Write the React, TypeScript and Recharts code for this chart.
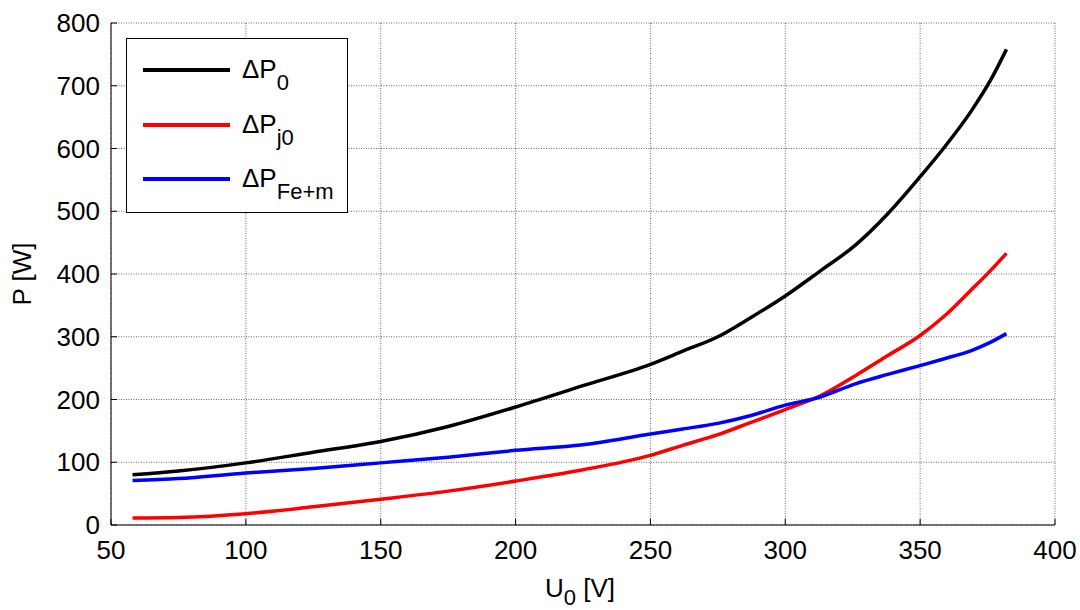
import React from "react"
import { LineChart, Line, XAxis, YAxis, CartesianGrid, Legend, Label } from "recharts"

// no-load test: voltage U0 [V] vs losses [W]
const voltage = [58, 75, 100, 125, 150, 175, 200, 225, 250, 262, 275, 287, 300, 313, 326, 338, 350, 359, 369, 376, 382]
const dP0 = [80, 86, 99, 116, 133, 157, 188, 222, 256, 277, 300, 330, 365, 405, 446, 496, 555, 602, 660, 708, 758]
const dPj0 = [11, 12, 18, 29, 41, 54, 70, 88, 111, 127, 144, 163, 184, 206, 238, 270, 302, 333, 375, 405, 433]
const dPFe = [71, 74, 83, 90, 99, 108, 119, 128, 145, 153, 162, 174, 191, 204, 225, 240, 254, 265, 278, 291, 305]

const xTicks = [50, 100, 150, 200, 250, 300, 350, 400]
const yTicks = [0, 100, 200, 300, 400, 500, 600, 700, 800]

const seriesKeys = ["p0", "pj0", "pfe"]
const seriesSubs = ["0", "j0", "Fe+m"]
const seriesColors = ["#000000", "#ff0000", "#0000ff"]

const data = voltage.map((u, i) => ({ u, p0: dP0[i], pj0: dPj0[i], pfe: dPFe[i] }))

const FONT = "'Liberation Sans', Arial, Helvetica, sans-serif"

function LegendBox() {
  return (
    <div
      style={{
        position: "relative",
        width: 220,
        height: 173,
        border: "1px solid #000",
        background: "#fff",
        fontFamily: FONT,
        color: "#000",
      }}
    >
      {seriesKeys.map((k, i) => (
        <div
          key={k}
          style={{
            position: "absolute",
            left: 16,
            top: 18 + i * 54.5,
            height: 26,
            display: "flex",
            alignItems: "center",
            whiteSpace: "nowrap",
          }}
        >
          <div style={{ width: 87, height: 4, background: seriesColors[i] }} />
          <span style={{ marginLeft: 12, fontSize: 26, lineHeight: "26px" }}>
            ΔP
            <span style={{ fontSize: 22, position: "relative", top: 12 }}>{seriesSubs[i]}</span>
          </span>
        </div>
      ))}
    </div>
  )
}

export default function App() {
  const tickStyle = { fill: "#000", fontSize: 26, fontFamily: FONT }
  return (
    <div style={{ position: "absolute", left: 0, top: 0, width: 1080, height: 610, background: "#fff" }}>
      <LineChart width={1080} height={610} data={data} margin={{ top: 0, right: 0, left: 0, bottom: 0 }}>
        <CartesianGrid stroke="#666" strokeDasharray="1 1.5" />
        <XAxis
          dataKey="u"
          type="number"
          domain={[50, 400]}
          ticks={xTicks}
          height={85}
          tick={tickStyle}
          tickSize={-6}
          tickMargin={22}
          stroke="#000"
          allowDataOverflow
        >
          <Label
            content={({ viewBox }: any) => (
              <text
                x={viewBox.x + viewBox.width / 2 - 3}
                y={597}
                textAnchor="middle"
                fontFamily={FONT}
                fontSize={26}
                fill="#000"
              >
                U
                <tspan fontSize={22} dy={8}>0</tspan>
                <tspan dy={-8}> [V]</tspan>
              </text>
            )}
          />
        </XAxis>
        <XAxis
          xAxisId="top"
          orientation="top"
          type="number"
          domain={[50, 400]}
          ticks={xTicks}
          height={23}
          tick={false}
          tickSize={-6}
          axisLine={false}
          stroke="#000"
        />
        <YAxis
          type="number"
          domain={[0, 800]}
          ticks={yTicks}
          width={111}
          tick={tickStyle}
          tickSize={-6}
          tickMargin={17}
          stroke="#000"
        >
          <Label
            content={({ viewBox }: any) => {
              const cy = viewBox.y + viewBox.height / 2
              return (
                <text
                  x={22}
                  y={cy}
                  transform={`rotate(-90, 22, ${cy})`}
                  textAnchor="middle"
                  dominantBaseline="central"
                  fontFamily={FONT}
                  fontSize={26}
                  fill="#000"
                >
                  P [W]
                </text>
              )
            }}
          />
        </YAxis>
        <YAxis
          yAxisId="right"
          orientation="right"
          type="number"
          domain={[0, 800]}
          ticks={yTicks}
          width={25}
          tick={false}
          tickSize={-6}
          axisLine={false}
          stroke="#000"
        />
        <Legend
          layout="vertical"
          align="center"
          verticalAlign="middle"
          wrapperStyle={{ left: 126, top: 38, width: "auto" }}
          content={() => <LegendBox />}
        />
        {seriesKeys.map((k, i) => (
          <Line
            key={k}
            type="monotone"
            dataKey={k}
            stroke={seriesColors[i]}
            strokeWidth={3.5}
            dot={false}
            isAnimationActive={false}
          />
        ))}
      </LineChart>
    </div>
  )
}
